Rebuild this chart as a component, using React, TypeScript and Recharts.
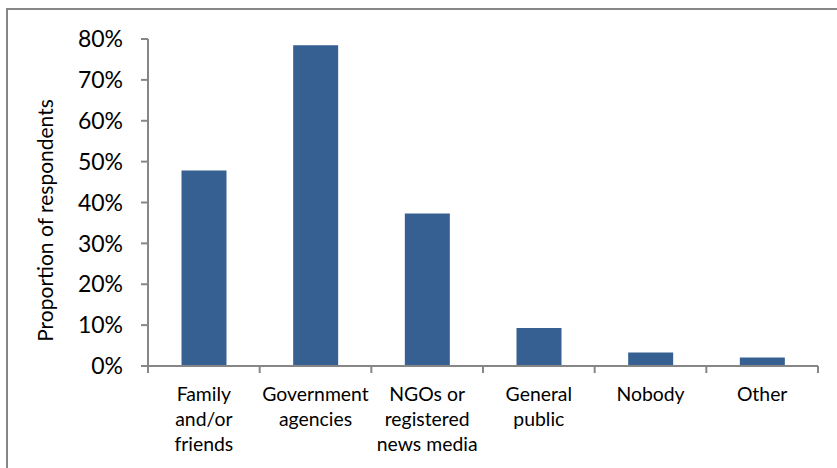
import React from 'react';
import { BarChart, Bar, XAxis, YAxis } from 'recharts';

const categories = [
  'Family and/or friends',
  'Government agencies',
  'NGOs or registered news media',
  'General public',
  'Nobody',
  'Other',
];
const categoryLines = [
  ['Family', 'and/or', 'friends'],
  ['Government', 'agencies'],
  ['NGOs or', 'registered', 'news media'],
  ['General', 'public'],
  ['Nobody'],
  ['Other'],
];
const proportions = [0.478, 0.785, 0.373, 0.093, 0.033, 0.021];
const yTicks = [0, 0.1, 0.2, 0.3, 0.4, 0.5, 0.6, 0.7, 0.8];
const yTitle = 'Proportion of respondents';

const data = categories.map((c, i) => ({ category: c, value: proportions[i] }));

const W = 837;
const H = 468;
const MARGIN = { top: 39, right: 19, bottom: 12, left: 48 };
const Y_AXIS_W = 100;
const X_AXIS_H = 90;
const PLOT_W = W - MARGIN.left - MARGIN.right - Y_AXIS_W;
const HALF_BAND = PLOT_W / categories.length / 2;

const AXIS_COLOR = '#868686';
const BAR_COLOR = '#366092';
const FONT = 'Lato, "Open Sans", sans-serif';

const XTick = (props: any) => {
  const { x, y, payload, index, visibleTicksCount } = props;
  const idx = categories.indexOf(payload.value);
  const lines = categoryLines[idx] || [String(payload.value)];
  const isLast = index === visibleTicksCount - 1;
  return (
    <g>
      <line x1={x - HALF_BAND} x2={x - HALF_BAND} y1={y} y2={y + 7} stroke={AXIS_COLOR} strokeWidth={2} />
      {isLast && (
        <line x1={x + HALF_BAND} x2={x + HALF_BAND} y1={y} y2={y + 7} stroke={AXIS_COLOR} strokeWidth={2} />
      )}
      {lines.map((l, i) => (
        <text key={i} x={x} y={y + 35 + i * 25} textAnchor="middle" fill="#000" fontSize={19.4} fontFamily={FONT}>
          {l}
        </text>
      ))}
    </g>
  );
};

const YTitle = () => {
  const cx = 53;
  const cy = 220.5;
  return (
    <text
      x={0}
      y={0}
      transform={`translate(${cx},${cy}) rotate(-90)`}
      textAnchor="middle"
      fill="#000"
      fontSize={21}
      fontFamily={FONT}
    >
      {yTitle}
    </text>
  );
};

export default function App() {
  return (
    <div style={{ position: 'fixed', left: 0, top: 0, width: W, height: H, overflow: 'hidden', background: '#fff' }}>
      <div
        style={{
          position: 'absolute',
          left: 6,
          top: 8,
          width: W + 20,
          height: H + 20,
          border: `2px solid ${AXIS_COLOR}`,
          boxSizing: 'border-box',
        }}
      />
      <div style={{ position: 'absolute', left: 0, top: 0 }}>
        <BarChart width={W} height={H} data={data} margin={MARGIN} barCategoryGap="30%">
          <XAxis
            dataKey="category"
            height={X_AXIS_H}
            interval={0}
            tickSize={0}
            tickMargin={0}
            tickLine={false}
            axisLine={{ stroke: AXIS_COLOR, strokeWidth: 2 }}
            tick={<XTick />}
          />
          <YAxis
            width={Y_AXIS_W}
            domain={[0, 0.8]}
            ticks={yTicks}
            interval={0}
            tickFormatter={(v: number) => `${Math.round(v * 100)}%`}
            tickSize={7}
            tickMargin={18}
            axisLine={{ stroke: AXIS_COLOR, strokeWidth: 2 }}
            tickLine={{ stroke: AXIS_COLOR, strokeWidth: 2 }}
            tick={{ fill: '#000', fontSize: 23, fontFamily: FONT }}
            label={<YTitle />}
          />
          <Bar dataKey="value" fill={BAR_COLOR} isAnimationActive={false} />
        </BarChart>
      </div>
    </div>
  );
}
